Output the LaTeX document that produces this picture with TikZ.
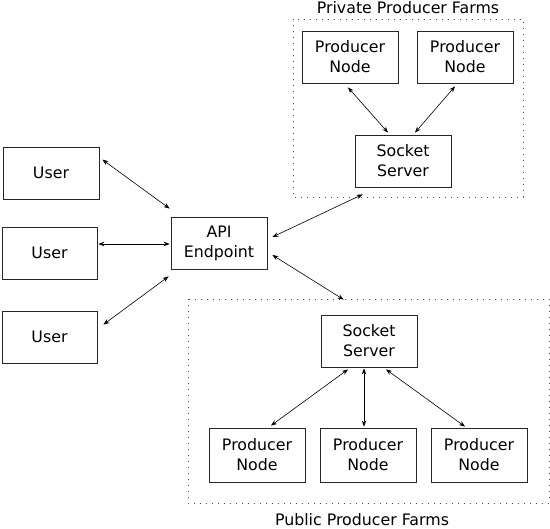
\documentclass[tikz,border=0pt]{standalone}
\usepackage{fontspec}
\setmainfont{DejaVu Sans}
\usetikzlibrary{arrows.meta,calc}
\begin{document}
\begin{tikzpicture}[x=1pt,y=-1pt,
  box/.style={draw=black!85,line width=0.8pt,minimum width=96pt,minimum height=52pt,inner sep=0pt,align=center,font=\fontsize{15.8}{19.8}\selectfont},
  farm/.style={draw=black!70,line width=0.9pt,dash pattern=on 0.9pt off 5.1pt},
  lbl/.style={font=\fontsize{15.8}{19.8}\selectfont,inner sep=0pt},
  link/.style={line width=0.6pt,{Stealth[length=6pt,width=4.5pt]}-{Stealth[length=6pt,width=4.5pt]}}]
\useasboundingbox (0,0) rectangle (550,529);
% farm frames
\draw[farm] (293,19) rectangle (523,197);
\draw[farm] (188,299) rectangle (549,503);
\node[lbl] (privlbl) at (408,7.5) {Private Producer Farms};
\node[lbl,anchor=base] (publbl) at (362,525.5) {Public Producer Farms};
% nodes
\node[box] (u1) at (51,173) {User};
\node[box,minimum width=95pt] (u2) at (49.5,253) {User};
\node[box,minimum width=95pt] (u3) at (49.5,337) {User};
\node[box] (api) at (219,243) {API\\Endpoint};
\node[box] (pn1) at (350,57) {Producer\\Node};
\node[box] (pn2) at (465,57) {Producer\\Node};
\node[box] (ss1) at (403,161) {Socket\\Server};
\node[box] (ss2) at (369,341) {Socket\\Server};
\node[box,minimum height=54pt] (pa) at (257,455) {Producer\\Node};
\node[box,minimum height=54pt] (pb) at (368,455) {Producer\\Node};
\node[box,minimum height=54pt] (pc) at (479,455) {Producer\\Node};
% connectors
\draw[link] ($(u1.north east)+(3,13)$) -- ($(api.north west)+(-1,-8)$);
\draw[link] ($(u2.east)+(1,-9)$) -- ($(api.west)+(-1,1)$);
\draw[link] ($(u3.north east)+(6,14)$) -- ($(api.south west)+(-2,7)$);
\draw[link] ($(api.east)+(5,-6)$) -- ($(ss1.south west)+(8,7)$);
\draw[link] ($(api.east)+(5,12)$) -- ($(ss2.north west)+(23,-15)$);
\draw[link] ($(pn1.south)+(-2,4)$) -- ($(ss1.north)+(-15,-2)$);
\draw[link] ($(pn2.south)+(-10,3)$) -- ($(ss1.north)+(12,-2)$);
\draw[link] ($(ss2.south)+(-21,2)$) -- ($(pa.north)+(14,-2)$);
\draw[link] ($(ss2.south)+(-5,1)$) -- ($(pb.north)+(-4,-1)$);
\draw[link] ($(ss2.south)+(17,2)$) -- ($(pc.north)+(-14,-1)$);
\end{tikzpicture}
\end{document}
